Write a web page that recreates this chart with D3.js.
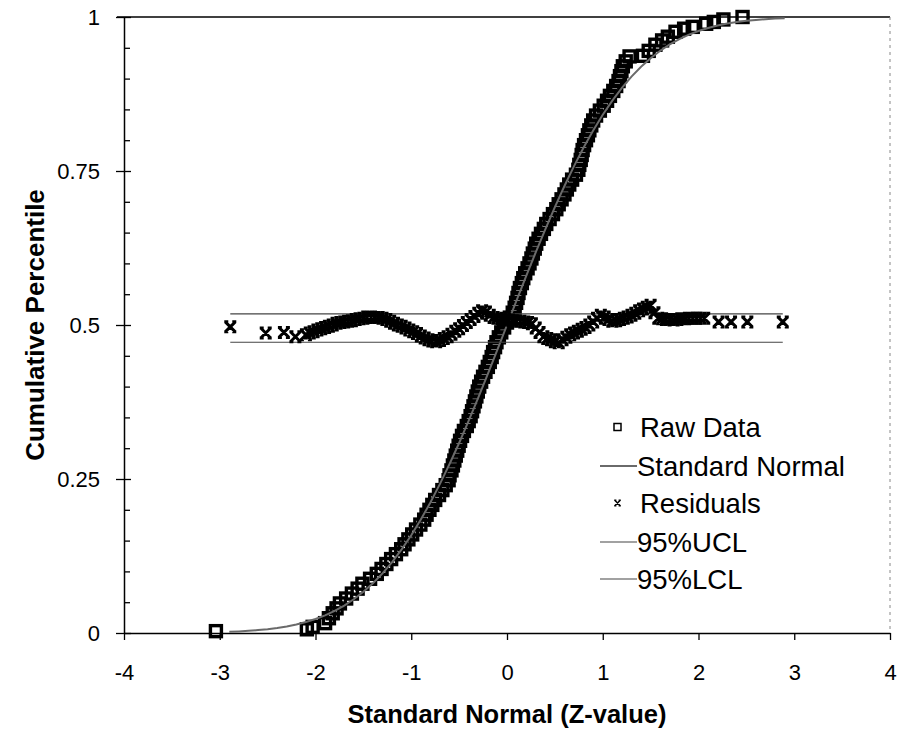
<!DOCTYPE html>
<html>
<head>
<meta charset="utf-8">
<script src="https://cdn.jsdelivr.net/npm/d3@7"></script>
<style>
body { margin: 0; background: #fff; }
svg { font-family: "Liberation Sans", Arial, sans-serif; }
</style>
</head>
<body>
<svg id="svg"></svg>
<script>
var width = 897, height = 731;

// raw data (z, cumulative percentile)
var rawZ = [-3.04, -2.09, -2.03,
	-1.90, -1.86, -1.82, -1.78, -1.745, -1.68, -1.62, -1.56, -1.51, -1.43, -1.36, -1.31, -1.26, -1.21, -1.16, -1.105,
	-1.07, -1.03, -0.99, -0.95, -0.905, -0.865, -0.84, -0.81, -0.78, -0.75, -0.71, -0.675, -0.64, -0.61, -0.60, -0.58,
	-0.565, -0.55, -0.535, -0.52, -0.505, -0.49, -0.47, -0.45, -0.42, -0.40, -0.38, -0.365, -0.35, -0.335, -0.32, -0.305,
	-0.29, -0.27, -0.25, -0.225, -0.20, -0.18, -0.16, -0.145, -0.125, -0.11, -0.085, -0.06, -0.03, 0.00, 0.03, 0.06,
	0.08, 0.095, 0.11, 0.12, 0.135, 0.155, 0.17, 0.19, 0.215, 0.235, 0.255, 0.27, 0.29, 0.305, 0.33, 0.355, 0.385, 0.41,
	0.445, 0.48, 0.515, 0.54, 0.57, 0.60, 0.625, 0.65, 0.68, 0.72, 0.745, 0.755, 0.77, 0.78, 0.79, 0.805, 0.825, 0.845,
	0.86, 0.88, 0.90, 0.93, 0.97, 1.01, 1.045, 1.075, 1.11, 1.14, 1.165, 1.18, 1.195, 1.21, 1.24, 1.28,
	1.42, 1.48, 1.55, 1.62, 1.68, 1.76, 1.85, 1.94, 2.08, 2.16, 2.26, 2.46];
var rawP = [0.003, 0.006, 0.010,
	0.016, 0.024, 0.032, 0.040, 0.048, 0.056, 0.064, 0.072, 0.080, 0.088, 0.096, 0.104, 0.112, 0.120, 0.128, 0.136,
	0.144, 0.152, 0.160, 0.168, 0.176, 0.184, 0.192, 0.200, 0.208, 0.216, 0.224, 0.232, 0.240, 0.248, 0.256, 0.264,
	0.272, 0.280, 0.288, 0.296, 0.304, 0.312, 0.320, 0.328, 0.336, 0.344, 0.352, 0.360, 0.368, 0.376, 0.384, 0.392,
	0.400, 0.408, 0.416, 0.424, 0.432, 0.440, 0.448, 0.456, 0.464, 0.472, 0.480, 0.488, 0.496, 0.504, 0.512, 0.520,
	0.528, 0.536, 0.544, 0.552, 0.560, 0.568, 0.576, 0.584, 0.592, 0.600, 0.608, 0.616, 0.624, 0.632, 0.640, 0.648, 0.656, 0.664,
	0.672, 0.680, 0.688, 0.696, 0.704, 0.712, 0.720, 0.728, 0.736, 0.744, 0.752, 0.760, 0.768, 0.776, 0.784, 0.792, 0.800, 0.808,
	0.816, 0.824, 0.832, 0.840, 0.848, 0.856, 0.864, 0.872, 0.880, 0.888, 0.896, 0.904, 0.912, 0.920, 0.928, 0.936,
	0.937, 0.945, 0.955, 0.962, 0.968, 0.976, 0.981, 0.984, 0.989, 0.992, 0.996, 1.000];

// standard normal cdf
var normZ = [-2.9, -2.8, -2.7, -2.6, -2.5, -2.4, -2.3, -2.2, -2.1, -2.0, -1.9, -1.8, -1.7, -1.6, -1.5, -1.4, -1.3, -1.2, -1.1, -1.0,
	-0.9, -0.8, -0.7, -0.6, -0.5, -0.4, -0.3, -0.2, -0.1, 0, 0.1, 0.2, 0.3, 0.4, 0.5, 0.6, 0.7, 0.8, 0.9, 1.0,
	1.1, 1.2, 1.3, 1.4, 1.5, 1.6, 1.7, 1.8, 1.9, 2.0, 2.1, 2.2, 2.3, 2.4, 2.5, 2.6, 2.7, 2.8, 2.9];
var normP = [0.0019, 0.0026, 0.0035, 0.0047, 0.0062, 0.0082, 0.0107, 0.0139, 0.0179, 0.0228, 0.0287, 0.0359, 0.0446, 0.0548, 0.0668, 0.0808, 0.0968, 0.1151, 0.1357, 0.1587,
	0.1841, 0.2119, 0.2420, 0.2743, 0.3085, 0.3446, 0.3821, 0.4207, 0.4602, 0.5, 0.5398, 0.5793, 0.6179, 0.6554, 0.6915, 0.7257, 0.7580, 0.7881, 0.8159, 0.8413,
	0.8643, 0.8849, 0.9032, 0.9192, 0.9332, 0.9452, 0.9554, 0.9641, 0.9713, 0.9772, 0.9821, 0.9861, 0.9893, 0.9918, 0.9938, 0.9953, 0.9965, 0.9974, 0.9981];

// residuals (plotted around 0.5)
var resZ = [-2.89, -2.52, -2.33, -2.21,
	-2.10, -2.06, -2.02, -1.98, -1.94, -1.90, -1.86, -1.82, -1.78, -1.74, -1.70, -1.66, -1.62, -1.58, -1.54, -1.50,
	-1.46, -1.42, -1.38, -1.34, -1.30, -1.26, -1.22, -1.18, -1.14, -1.10, -1.06, -1.02, -0.98, -0.94, -0.90, -0.86,
	-0.82, -0.78, -0.74, -0.70, -0.66, -0.62, -0.58, -0.54, -0.50, -0.46, -0.42, -0.38, -0.34, -0.30, -0.26, -0.22,
	-0.18, -0.14, -0.10, -0.06, -0.02, 0.02, 0.06, 0.10, 0.14, 0.18, 0.22, 0.26, 0.30, 0.34, 0.38, 0.42, 0.46, 0.50,
	0.54, 0.58, 0.62, 0.66, 0.70, 0.74, 0.78, 0.82, 0.86, 0.90, 0.94, 0.98, 1.02, 1.06, 1.10, 1.14, 1.18, 1.22, 1.26,
	1.30, 1.34, 1.38, 1.42, 1.46, 1.50, 1.54, 1.58, 1.62, 1.66, 1.70, 1.74, 1.78, 1.82, 1.86, 1.90, 1.94, 1.98, 2.02, 2.06,
	2.21, 2.34, 2.51, 2.88];
var resP = [0.497, 0.487, 0.488, 0.481,
	0.484, 0.487, 0.489, 0.492, 0.494, 0.496, 0.498, 0.500, 0.503, 0.504, 0.505, 0.506, 0.507, 0.509, 0.510, 0.511,
	0.513, 0.513, 0.512, 0.512, 0.511, 0.509, 0.506, 0.503, 0.500, 0.498, 0.495, 0.492, 0.489, 0.486, 0.482, 0.479,
	0.476, 0.474, 0.473, 0.475, 0.478, 0.481, 0.485, 0.490, 0.494, 0.499, 0.504, 0.509, 0.514, 0.519, 0.523, 0.521,
	0.516, 0.512, 0.511, 0.510, 0.509, 0.508, 0.507, 0.506, 0.506, 0.505, 0.504, 0.502, 0.495, 0.488, 0.481, 0.478, 0.476, 0.473,
	0.471, 0.476, 0.480, 0.484, 0.487, 0.490, 0.493, 0.496, 0.500, 0.505, 0.511, 0.516, 0.513, 0.509, 0.506, 0.507, 0.509, 0.511, 0.513,
	0.516, 0.519, 0.523, 0.526, 0.529, 0.532, 0.520, 0.511, 0.510, 0.509, 0.509, 0.508, 0.509, 0.510, 0.510, 0.511, 0.511, 0.511, 0.511, 0.511,
	0.505, 0.505, 0.505, 0.505];

var limitZ = [-2.89, 2.88];
var ucl = 0.518, lcl = 0.472;

var xTicks = [-4, -3, -2, -1, 0, 1, 2, 3, 4];
var yTicks = [0, 0.25, 0.5, 0.75, 1];
var yMinor = [0.05, 0.1, 0.15, 0.2, 0.3, 0.35, 0.4, 0.45, 0.55, 0.6, 0.65, 0.7, 0.8, 0.85, 0.9, 0.95];
var legendNames = ["Raw Data", "Standard Normal", "Residuals", "95%UCL", "95%LCL"];

var svg = d3.select("#svg")
	.attr("width", width)
	.attr("height", height);

var x = d3.scaleLinear().domain([-4, 4]).range([124, 890]);
var y = d3.scaleLinear().domain([0, 1]).range([633, 17]);

// frame: top line solid, right side dashed
svg.append("line")
	.attr("x1", 117).attr("x2", x(4))
	.attr("y1", y(1)).attr("y2", y(1))
	.attr("stroke", "#000").attr("stroke-width", 1.5);
svg.append("line")
	.attr("x1", x(4)).attr("x2", x(4))
	.attr("y1", y(1)).attr("y2", y(0))
	.attr("stroke", "#888").attr("stroke-width", 1)
	.attr("stroke-dasharray", "3,4");

// axes
svg.append("g")
	.attr("transform", "translate(0," + y(0) + ")")
	.call(d3.axisBottom(x).tickValues(xTicks).tickSize(7).tickSizeOuter(0).tickPadding(24)
		.tickFormat(function(d) { return String(d); }));

var yAxis = svg.append("g")
	.attr("transform", "translate(" + x(-4) + ",0)")
	.call(d3.axisLeft(y).tickValues(yTicks).tickSize(8).tickSizeOuter(0).tickPadding(16)
		.tickFormat(function(d) { return String(d); }));
yAxis.selectAll(".tick line").attr("x1", 7);

svg.append("g")
	.attr("transform", "translate(" + x(-4) + ",0)")
	.call(d3.axisRight(y).tickValues(yMinor).tickSize(6).tickSizeOuter(0).tickFormat(""))
	.select(".domain").remove();

svg.selectAll(".domain").attr("stroke", "#000").attr("stroke-width", 1.5);
svg.selectAll(".tick line").attr("stroke", "#000").attr("stroke-width", 1.3);
svg.selectAll(".tick text")
	.attr("font-family", "'Liberation Sans', Arial, sans-serif")
	.attr("font-size", 22)
	.attr("fill", "#000");

// axis titles
svg.append("text")
	.attr("transform", "translate(35," + y(0.5) + ") rotate(-90)")
	.attr("text-anchor", "middle")
	.attr("dy", "0.35em")
	.attr("font-size", 26)
	.attr("font-weight", "bold")
	.text("Cumulative Percentile");

svg.append("text")
	.attr("x", x(0))
	.attr("y", 723)
	.attr("text-anchor", "middle")
	.attr("font-size", 25.5)
	.attr("font-weight", "bold")
	.text("Standard Normal (Z-value)");

// raw data squares
var raw = rawZ.map(function(d, i) { return [d, rawP[i]]; });
svg.append("g")
	.selectAll("rect")
	.data(raw)
	.enter().append("rect")
	.attr("x", function(d) { return x(d[0]) - 5.5; })
	.attr("y", function(d) { return y(d[1]) - 5.5; })
	.attr("width", 11)
	.attr("height", 11)
	.attr("fill", "none")
	.attr("stroke", "#000")
	.attr("stroke-width", 3.4);

// standard normal
var line = d3.line()
	.x(function(d) { return x(d[0]); })
	.y(function(d) { return y(d[1]); });

svg.append("path")
	.datum(normZ.map(function(d, i) { return [d, normP[i]]; }))
	.attr("d", line)
	.attr("fill", "none")
	.attr("stroke", "#6a6a6a")
	.attr("stroke-width", 2);

// confidence limits
[ucl, lcl].forEach(function(v) {
	svg.append("path")
		.datum(limitZ.map(function(z) { return [z, v]; }))
		.attr("d", line)
		.attr("fill", "none")
		.attr("stroke", "#444")
		.attr("stroke-width", 1.2);
});

// residual markers
var xMark = "M-5,-5L5,5M5,-5L-5,5M-6,-5H-2M2,-5H6M-6,5H-2M2,5H6";
svg.append("g")
	.selectAll("path")
	.data(resZ.map(function(d, i) { return [d, resP[i]]; }))
	.enter().append("path")
	.attr("transform", function(d) { return "translate(" + x(d[0]) + "," + y(d[1]) + ")"; })
	.attr("d", xMark)
	.attr("fill", "none")
	.attr("stroke", "#000")
	.attr("stroke-width", 3);

// legend
var legend = svg.append("g")
	.attr("font-size", 27.5)
	.selectAll("g")
	.data(legendNames)
	.enter().append("g")
	.attr("transform", function(d, i) { return "translate(600," + [427, 466, 503, 542, 579][i] + ")"; });

legend.append("text")
	.attr("x", function(d, i) { return (i == 0 || i == 2) ? 40 : 37; })
	.attr("dy", "0.35em")
	.text(function(d) { return d; });

legend.filter(function(d, i) { return i == 0; })
	.append("rect")
	.attr("x", 14).attr("y", -3.5)
	.attr("width", 7).attr("height", 7)
	.attr("fill", "none").attr("stroke", "#000").attr("stroke-width", 1.5);

legend.filter(function(d, i) { return i == 2; })
	.append("path")
	.attr("transform", "translate(17.5,0) scale(0.55)")
	.attr("d", xMark)
	.attr("fill", "none").attr("stroke", "#000").attr("stroke-width", 2.8);

legend.filter(function(d, i) { return i == 1 || i == 3 || i == 4; })
	.append("line")
	.attr("x1", 0).attr("x2", 37)
	.attr("stroke", function(d) { return d == "Standard Normal" ? "#6a6a6a" : "#444"; })
	.attr("stroke-width", function(d) { return d == "Standard Normal" ? 2 : 1.2; });
</script>
</body>
</html>
